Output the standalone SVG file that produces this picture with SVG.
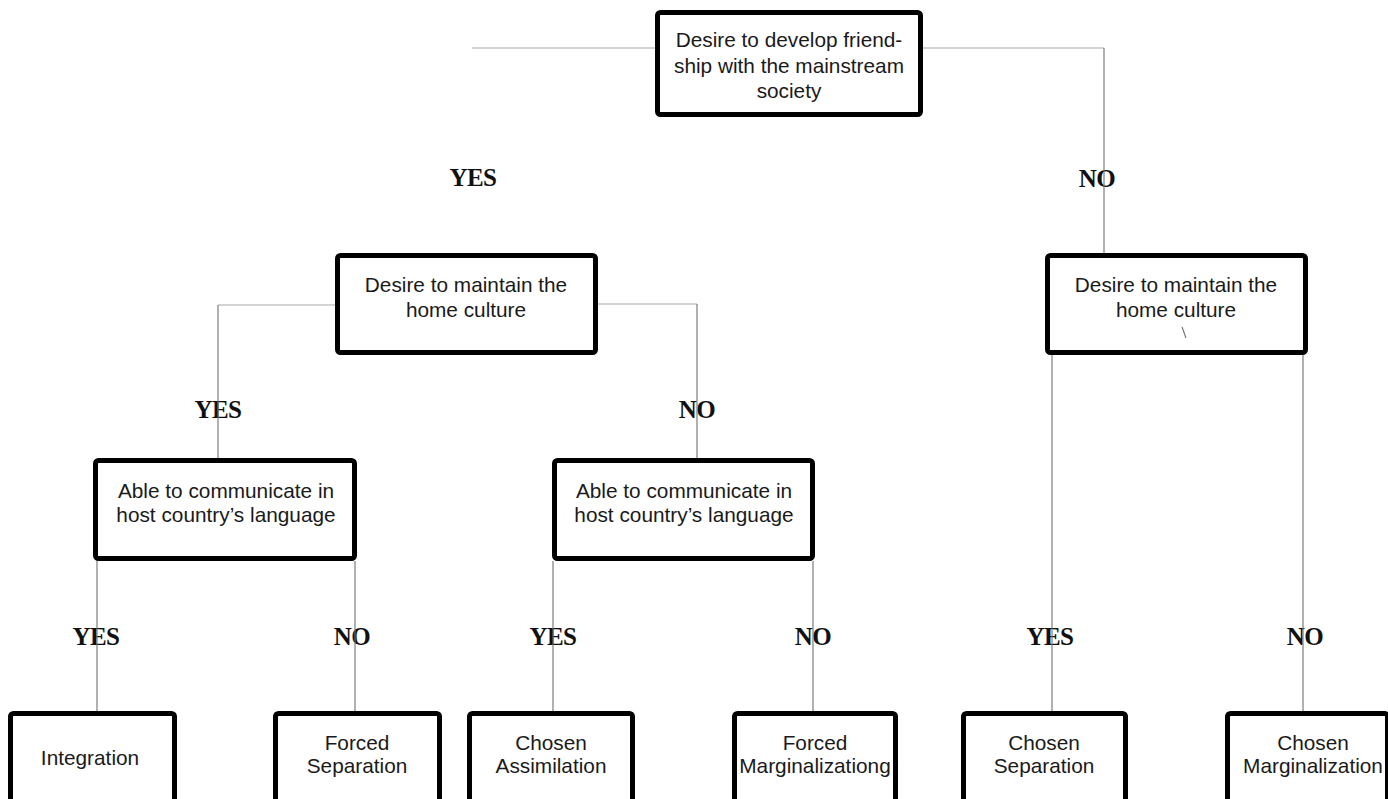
<svg xmlns="http://www.w3.org/2000/svg" width="1388" height="799" viewBox="0 0 1388 799">
  <style>
    .box { fill: #ffffff; stroke: #000000; stroke-width: 5; }
    .lbl { font-family: "Liberation Sans", Arial, sans-serif; font-size: 20.8px; fill: #1a1a1a; text-anchor: middle; }
    .ans { font-family: "Liberation Serif", "Times New Roman", serif; font-size: 25px; font-weight: bold; fill: #111111; text-anchor: middle; letter-spacing: -0.6px; }
    .wire { fill: none; stroke: #707070; stroke-width: 1.1; }
    .wire.h { stroke: #a8a8a8; }
  </style>
  <rect width="1388" height="799" fill="#ffffff"/>

  <!-- answer labels -->
  <g id="answers">
    <text class="ans" x="473" y="186">YES</text>
    <text class="ans" x="1097" y="187">NO</text>
    <text class="ans" x="218" y="418">YES</text>
    <text class="ans" x="697" y="418">NO</text>
    <text class="ans" x="96" y="645">YES</text>
    <text class="ans" x="352" y="645">NO</text>
    <text class="ans" x="553" y="645">YES</text>
    <text class="ans" x="813" y="645">NO</text>
    <text class="ans" x="1050" y="645">YES</text>
    <text class="ans" x="1305" y="645">NO</text>
  </g>

  <g id="friendship">
    <rect class="box" x="657.5" y="12.5" width="263" height="102" rx="3"/>
    <text class="lbl" x="789" y="47">Desire to develop friend-</text>
    <text class="lbl" x="789" y="72.5">ship with the mainstream</text>
    <text class="lbl" x="789" y="98">society</text>
  </g>

  <g id="home-culture-yes">
    <rect class="box" x="337.5" y="255.5" width="258" height="97" rx="3"/>
    <text class="lbl" x="466" y="292">Desire to maintain the</text>
    <text class="lbl" x="466" y="317">home culture</text>
  </g>

  <g id="home-culture-no">
    <rect class="box" x="1047.5" y="255.5" width="258" height="97" rx="3"/>
    <text class="lbl" x="1176" y="292">Desire to maintain the</text>
    <text class="lbl" x="1176" y="317">home culture</text>
  </g>

  <g id="language-left">
    <rect class="box" x="95.5" y="460.5" width="259" height="98" rx="3"/>
    <text class="lbl" x="226" y="498">Able to communicate in</text>
    <text class="lbl" x="226" y="522">host country’s language</text>
  </g>

  <g id="language-mid">
    <rect class="box" x="554.5" y="460.5" width="258" height="98" rx="3"/>
    <text class="lbl" x="684" y="498">Able to communicate in</text>
    <text class="lbl" x="684" y="522">host country’s language</text>
  </g>

  <g id="integration">
    <rect class="box" x="10.5" y="713.5" width="164" height="120" rx="3"/>
    <text class="lbl" x="90" y="765">Integration</text>
  </g>

  <g id="forced-separation">
    <rect class="box" x="275.5" y="713.5" width="164" height="120" rx="3"/>
    <text class="lbl" x="357" y="750">Forced</text>
    <text class="lbl" x="357" y="773">Separation</text>
  </g>

  <g id="chosen-assimilation">
    <rect class="box" x="469.5" y="713.5" width="163" height="120" rx="3"/>
    <text class="lbl" x="551" y="750">Chosen</text>
    <text class="lbl" x="551" y="773">Assimilation</text>
  </g>

  <g id="forced-marginalization">
    <rect class="box" x="734.5" y="713.5" width="161" height="120" rx="3"/>
    <text class="lbl" x="815" y="750">Forced</text>
    <text class="lbl" x="815" y="773">Marginalizationg</text>
  </g>

  <g id="chosen-separation">
    <rect class="box" x="963.5" y="713.5" width="162" height="120" rx="3"/>
    <text class="lbl" x="1044" y="750">Chosen</text>
    <text class="lbl" x="1044" y="773">Separation</text>
  </g>

  <g id="chosen-marginalization">
    <rect class="box" x="1227.5" y="713.5" width="160" height="120" rx="3"/>
    <text class="lbl" x="1313" y="750">Chosen</text>
    <text class="lbl" x="1313" y="773">Marginalization</text>
  </g>

  <!-- connectors, drawn on top so they run through the answer labels -->
  <g id="connectors">
    <path class="wire h" d="M472 48 H655"/>
    <path class="wire h" d="M923 48 H1104"/>
    <path class="wire" d="M1104 48 V253"/>
    <path class="wire h" d="M335 305 H218"/>
    <path class="wire" d="M218 305 V458"/>
    <path class="wire h" d="M598 304 H697"/>
    <path class="wire" d="M697 304 V458"/>
    <path class="wire" d="M1052 355 V711"/>
    <path class="wire" d="M1303 355 V711"/>
    <path class="wire" d="M97 561 V711"/>
    <path class="wire" d="M355 561 V711"/>
    <path class="wire" d="M553 561 V711"/>
    <path class="wire" d="M813 561 V711"/>
    <path class="wire" d="M1182 327 L1186 338"/>
  </g>
</svg>
